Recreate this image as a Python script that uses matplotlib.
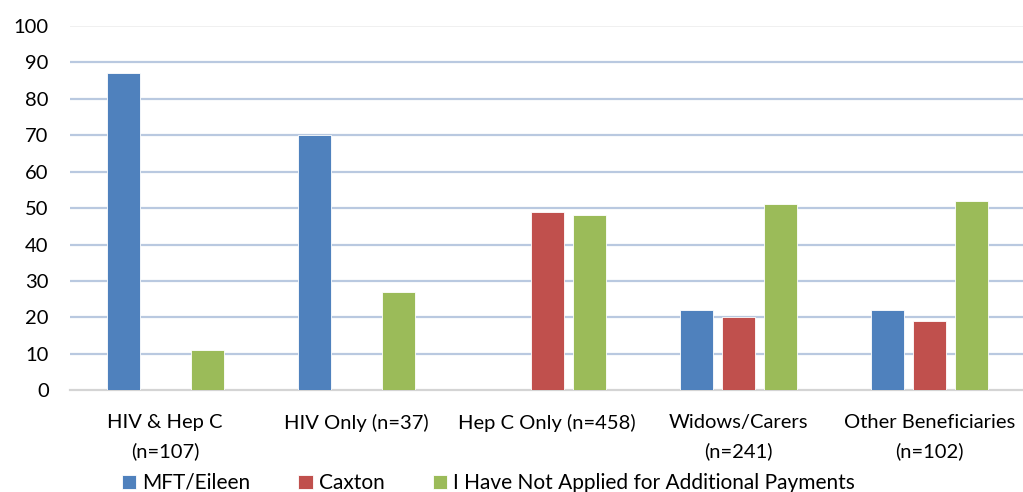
import matplotlib
matplotlib.use("Agg")
import matplotlib.pyplot as plt
import numpy as np

categories = ["HIV & Hep C\n(n=107)", "HIV Only (n=37)", "Hep C Only (n=458)",
              "Widows/Carers\n(n=241)", "Other Beneficiaries\n(n=102)"]
series_names = ["MFT/Eileen", "Caxton", "I Have Not Applied for Additional Payments"]
mft = [87, 70, 0, 22, 22]
caxton = [0, 0, 49, 20, 19]
not_applied = [11, 27, 48, 51, 52]
colors = ["#4f81bd", "#c0504d", "#9bbb59"]
yticks = [0, 10, 20, 30, 40, 50, 60, 70, 80, 90, 100]

plt.rcParams['font.family'] = ['Lato', 'DejaVu Sans']
FS = 14.5

fig = plt.figure(figsize=(10.23, 4.92), dpi=100)
ax = fig.add_axes([0.068, 0.207, 0.934, 0.740])

x = np.arange(len(categories))
w = 0.173
off = 0.22
for i, (vals, c, name) in enumerate(zip([mft, caxton, not_applied], colors, series_names)):
    ax.bar(x + (i - 1) * off, vals, width=w, color=c, label=name,
           edgecolor="white", linewidth=0.6, zorder=3)

ax.set_xlim(-0.5, len(categories) - 0.5)
ax.set_ylim(0, 100)
ax.set_yticks(yticks)
ax.set_yticklabels([str(t) for t in yticks])
ax.set_xticks(x)
ax.set_xticklabels(categories, linespacing=1.75)
for t in yticks[1:-1]:
    ax.axhline(t, color="#b9c9e0", linewidth=1.6, zorder=1)
ax.axhline(100, color="#eeeeee", linewidth=1.2, zorder=1)

for s in ["top", "right", "left"]:
    ax.spines[s].set_visible(False)
ax.spines["bottom"].set_color("#d4d4d4")
ax.spines["bottom"].set_linewidth(1.6)
ax.tick_params(axis="both", length=0, labelsize=FS, colors="#000000")
ax.tick_params(axis="y", pad=15)
ax.tick_params(axis="x", pad=17)

leg = fig.legend(loc="lower left", bbox_to_anchor=(122 / 1023, -0.002), ncol=3,
                 frameon=False, fontsize=15, handlelength=0.68, handleheight=0.65,
                 handletextpad=0.3, columnspacing=2.3, borderpad=0,
                 borderaxespad=0)

fig.savefig("out.png", dpi=100)
